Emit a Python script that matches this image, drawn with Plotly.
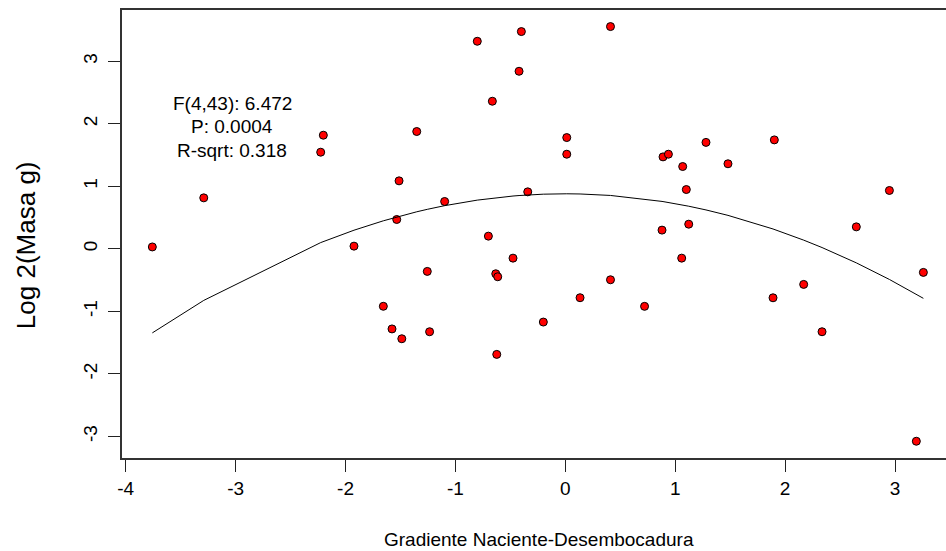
import plotly.graph_objects as go

# Position along the river gradient (source -> mouth) and log2 body mass
gradiente = [-3.758, -3.290, -2.226, -2.202, -1.923, -1.656, -1.577, -1.534,
             -1.513, -1.488, -1.352, -1.256, -1.235, -1.098, -0.801, -0.700,
             -0.664, -0.633, -0.615, -0.624, -0.476, -0.421, -0.400, -0.342,
             -0.200, 0.013, 0.013, 0.134, 0.411, 0.411, 0.721, 0.880,
             0.889, 0.938, 1.059, 1.068, 1.101, 1.123, 1.280, 1.480,
             1.890, 1.902, 2.169, 2.336, 2.648, 2.949, 3.194, 3.258]
log2_masa = [0.030, 0.815, 1.545, 1.817, 0.043, -0.919, -1.281, 0.469,
             1.087, -1.438, 1.876, -0.361, -1.326, 0.757, 3.319, 0.203,
             2.360, -0.399, -0.447, -1.688, -0.149, 2.839, 3.474, 0.911,
             -1.171, 1.779, 1.513, -0.782, 3.554, -0.495, -0.920, 0.299,
             1.470, 1.513, -0.149, 1.316, 0.948, 0.394, 1.702, 1.360,
             -0.783, 1.742, -0.569, -1.326, 0.351, 0.933, -3.077, -0.377]

# Quadratic fit (intercept, linear, quadratic)
fit_coef = [0.88, 0.0, -0.1575]

# Model summary shown on the plot
stats_lines = ["F(4,43): 6.472", "P: 0.0004", "R-sqrt: 0.318"]
stats_x = -3.03
stats_y = [2.33, 1.955, 1.58]

x_ticks = [-4, -3, -2, -1, 0, 1, 2, 3]
x_tick_labels = ["-4", "-3", "-2", "-1", "0", "1", "2", "3"]
y_ticks = [-3, -2, -1, 0, 1, 2, 3]
y_tick_labels = ["-3", "-2", "-1", "0", "1", "2", "3"]

FONT = "Arial, Liberation Sans, sans-serif"

curve_x = sorted(gradiente)
curve_y = [fit_coef[0] + fit_coef[1] * v + fit_coef[2] * v * v for v in curve_x]

fig = go.Figure()
fig.add_trace(go.Scatter(
    x=gradiente, y=log2_masa, mode="markers",
    marker=dict(size=8, color="#ff0000", line=dict(color="black", width=1)),
    hoverinfo="x+y", showlegend=False,
))
fig.add_trace(go.Scatter(
    x=curve_x, y=curve_y, mode="lines",
    line=dict(color="black", width=1), showlegend=False, hoverinfo="skip",
))

for txt, yy in zip(stats_lines, stats_y):
    fig.add_annotation(x=stats_x, y=yy, xref="x", yref="y", text=txt,
                       showarrow=False, xanchor="center", yanchor="middle",
                       font=dict(family=FONT, size=19, color="black"))

# Axis titles
fig.add_annotation(x=(538.5 - 122) / 824, y=(458 - 540) / 448.3,
                   xref="paper", yref="paper", text="Gradiente Naciente-Desembocadura",
                   showarrow=False, xanchor="center", yanchor="middle",
                   font=dict(family=FONT, size=19, color="black"))
fig.add_annotation(x=(26 - 122) / 824, y=(458 - 245) / 448.3,
                   xref="paper", yref="paper", text="Log 2(Masa g)", textangle=-90,
                   showarrow=False, xanchor="center", yanchor="middle",
                   font=dict(family=FONT, size=26, color="black"))

axis_common = dict(
    showgrid=False, zeroline=False, showline=True, linecolor="#333",
    linewidth=1.5, ticks="outside", ticklen=12, tickwidth=1, tickcolor="#222",
    tickfont=dict(family=FONT, size=19, color="black"),
)
fig.update_xaxes(range=[-4.034, 3.464], tickvals=x_ticks, ticktext=x_tick_labels,
                 mirror=True, **axis_common)
fig.update_yaxes(range=[-3.345, 3.819], tickvals=y_ticks, ticktext=y_tick_labels,
                 tickangle=-90, mirror=False, ticklabelstandoff=4, **axis_common)

fig.update_layout(
    width=946, height=551,
    margin=dict(l=122, r=0, t=10, b=93),
    paper_bgcolor="white", plot_bgcolor="white",
    font=dict(family=FONT),
    showlegend=False,
)

fig.write_html("out.html")
